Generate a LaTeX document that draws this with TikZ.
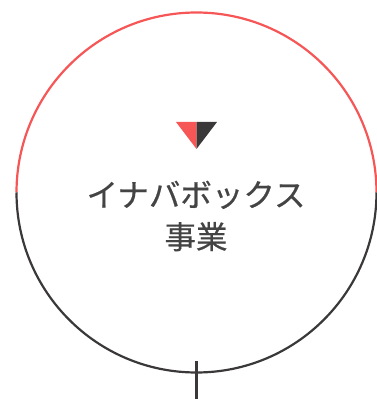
\documentclass[tikz,border=0pt]{standalone}
\usepackage{fontspec}
\newfontfamily\jpfont[FakeBold=0.6]{Noto Sans CJK JP}
\usetikzlibrary{positioning,calc}
\definecolor{ringred}{RGB}{246,86,86}
\definecolor{ringdark}{RGB}{58,56,56}
\definecolor{textgray}{RGB}{68,68,68}

\begin{document}
\begin{tikzpicture}[x=1pt, y=1pt]
  \useasboundingbox (0,0) rectangle (376,399);
  % Ring
  \coordinate (center) at (196.5,206.5);
  \draw[ringred, line width=2.2pt] ($(center)+(-180,0)$) arc (180:0:180);
  \draw[ringdark, line width=2.2pt] ($(center)+(180,0)$) arc (0:-180:180);
  
  % Stem
  \coordinate (ringbottom) at (196.5,26.5);
  \coordinate (stemend) at (196.5,0);
  \draw[ringdark, line width=2.2pt] ($(ringbottom)+(0,11)$) -- (stemend);
  
  % Marker
  \coordinate (tipleft) at (176,277);
  \coordinate (tipmid) at (196.5,277);
  \coordinate (tipright) at (217,277);
  \coordinate (apex) at (196.5,250);
  \fill[ringred] (tipleft) -- (tipmid) -- (apex) -- cycle;
  \fill[ringdark] (tipmid) -- (tipright) -- (apex) -- cycle;
  
  % Label
  \node[align=center, text=textgray, font=\jpfont\fontsize{31.5}{42}\selectfont] (title) at (196,183) {イナバボックス\\事業};
\end{tikzpicture}
\end{document}
